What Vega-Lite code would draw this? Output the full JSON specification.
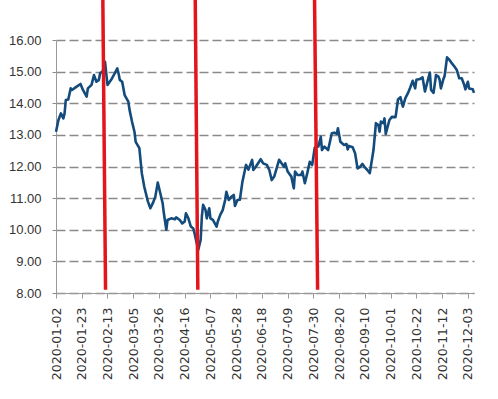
{
  "$schema": "https://vega.github.io/schema/vega-lite/v6.json",
  "width": 418,
  "height": 253,
  "autosize": "none",
  "padding": {"left": 56, "top": 40, "right": 24, "bottom": 106},
  "background": "white",
  "config": {"view": {"stroke": null}},
  "layer": [
    {
      "data": {"values": [
        {"date":"2020-01-02","value":13.10},{"date":"2020-01-04","value":13.47},{"date":"2020-01-06","value":13.68},{"date":"2020-01-08","value":13.52},{"date":"2020-01-09","value":13.68},{"date":"2020-01-10","value":14.10},{"date":"2020-01-12","value":14.12},{"date":"2020-01-14","value":14.47},{"date":"2020-01-15","value":14.42},{"date":"2020-01-18","value":14.50},{"date":"2020-01-22","value":14.61},{"date":"2020-01-24","value":14.42},{"date":"2020-01-27","value":14.21},{"date":"2020-01-28","value":14.47},{"date":"2020-01-31","value":14.58},
        {"date":"2020-02-02","value":14.89},{"date":"2020-02-04","value":14.68},{"date":"2020-02-06","value":14.74},{"date":"2020-02-07","value":14.95},{"date":"2020-02-09","value":15.00},{"date":"2020-02-11","value":15.31},{"date":"2020-02-13","value":14.58},{"date":"2020-02-16","value":14.74},{"date":"2020-02-19","value":14.95},{"date":"2020-02-21","value":15.10},{"date":"2020-02-22","value":14.95},{"date":"2020-02-23","value":14.74},{"date":"2020-02-25","value":14.68},{"date":"2020-02-27","value":14.26},
        {"date":"2020-03-01","value":14.05},{"date":"2020-03-02","value":13.79},{"date":"2020-03-04","value":13.42},{"date":"2020-03-06","value":13.10},{"date":"2020-03-07","value":12.78},{"date":"2020-03-10","value":12.58},{"date":"2020-03-12","value":11.79},{"date":"2020-03-14","value":11.36},{"date":"2020-03-17","value":10.89},{"date":"2020-03-19","value":10.68},{"date":"2020-03-21","value":10.84},{"date":"2020-03-23","value":11.04},{"date":"2020-03-25","value":11.49},{"date":"2020-03-27","value":11.17},{"date":"2020-03-29","value":10.84},{"date":"2020-03-30","value":10.52},
        {"date":"2020-04-01","value":10.00},{"date":"2020-04-02","value":10.31},{"date":"2020-04-05","value":10.36},{"date":"2020-04-08","value":10.33},{"date":"2020-04-09","value":10.39},{"date":"2020-04-12","value":10.31},{"date":"2020-04-14","value":10.20},{"date":"2020-04-16","value":10.26},{"date":"2020-04-17","value":10.52},{"date":"2020-04-19","value":10.36},{"date":"2020-04-21","value":10.10},{"date":"2020-04-23","value":10.04},{"date":"2020-04-24","value":9.89},{"date":"2020-04-27","value":9.36},{"date":"2020-04-29","value":9.68},{"date":"2020-04-30","value":10.42},
        {"date":"2020-05-01","value":10.79},{"date":"2020-05-03","value":10.62},{"date":"2020-05-04","value":10.36},{"date":"2020-05-06","value":10.68},{"date":"2020-05-07","value":10.36},{"date":"2020-05-09","value":10.31},{"date":"2020-05-12","value":10.10},{"date":"2020-05-13","value":10.26},{"date":"2020-05-15","value":10.47},{"date":"2020-05-17","value":10.62},{"date":"2020-05-19","value":10.94},{"date":"2020-05-20","value":11.20},{"date":"2020-05-22","value":10.94},{"date":"2020-05-24","value":11.04},{"date":"2020-05-26","value":11.10},{"date":"2020-05-27","value":10.75},{"date":"2020-05-29","value":10.94},{"date":"2020-05-31","value":10.95},
        {"date":"2020-06-02","value":11.50},{"date":"2020-06-05","value":12.05},{"date":"2020-06-07","value":11.90},{"date":"2020-06-10","value":12.21},{"date":"2020-06-11","value":11.89},{"date":"2020-06-13","value":11.99},{"date":"2020-06-17","value":12.23},{"date":"2020-06-19","value":12.10},{"date":"2020-06-22","value":12.05},{"date":"2020-06-24","value":11.89},{"date":"2020-06-26","value":11.57},{"date":"2020-06-28","value":11.68},
        {"date":"2020-07-02","value":12.21},{"date":"2020-07-04","value":12.10},{"date":"2020-07-06","value":11.99},{"date":"2020-07-07","value":12.10},{"date":"2020-07-09","value":11.84},{"date":"2020-07-12","value":11.68},{"date":"2020-07-14","value":11.31},{"date":"2020-07-15","value":11.84},{"date":"2020-07-17","value":11.73},{"date":"2020-07-20","value":11.73},{"date":"2020-07-21","value":11.84},{"date":"2020-07-23","value":11.47},{"date":"2020-07-25","value":11.79},{"date":"2020-07-27","value":12.15},{"date":"2020-07-29","value":12.05},{"date":"2020-07-31","value":12.58},
        {"date":"2020-08-02","value":12.68},{"date":"2020-08-03","value":12.63},{"date":"2020-08-05","value":12.94},{"date":"2020-08-06","value":12.52},{"date":"2020-08-08","value":12.63},{"date":"2020-08-11","value":12.52},{"date":"2020-08-14","value":13.05},{"date":"2020-08-16","value":13.07},{"date":"2020-08-18","value":13.03},{"date":"2020-08-19","value":13.21},{"date":"2020-08-21","value":12.78},{"date":"2020-08-24","value":12.68},{"date":"2020-08-26","value":12.71},{"date":"2020-08-27","value":12.54},{"date":"2020-08-28","value":12.65},{"date":"2020-08-31","value":12.61},
        {"date":"2020-09-02","value":12.42},{"date":"2020-09-04","value":11.94},{"date":"2020-09-06","value":11.99},{"date":"2020-09-08","value":12.08},{"date":"2020-09-10","value":11.97},{"date":"2020-09-12","value":11.89},{"date":"2020-09-14","value":11.79},{"date":"2020-09-17","value":12.52},{"date":"2020-09-19","value":13.37},{"date":"2020-09-21","value":13.31},{"date":"2020-09-22","value":13.10},{"date":"2020-09-23","value":13.42},{"date":"2020-09-25","value":13.37},{"date":"2020-09-26","value":13.52},{"date":"2020-09-27","value":13.03},{"date":"2020-09-30","value":13.47},
        {"date":"2020-10-02","value":13.57},{"date":"2020-10-05","value":13.56},{"date":"2020-10-07","value":14.12},{"date":"2020-10-09","value":14.19},{"date":"2020-10-11","value":13.89},{"date":"2020-10-13","value":14.16},{"date":"2020-10-15","value":14.31},{"date":"2020-10-17","value":14.50},{"date":"2020-10-19","value":14.71},{"date":"2020-10-21","value":14.47},{"date":"2020-10-22","value":14.74},{"date":"2020-10-25","value":14.77},{"date":"2020-10-27","value":14.82},{"date":"2020-10-29","value":14.37},{"date":"2020-10-31","value":14.68},
        {"date":"2020-11-02","value":14.97},{"date":"2020-11-03","value":14.42},{"date":"2020-11-05","value":14.33},{"date":"2020-11-07","value":14.89},{"date":"2020-11-09","value":14.84},{"date":"2020-11-10","value":14.74},{"date":"2020-11-11","value":14.47},{"date":"2020-11-13","value":14.76},{"date":"2020-11-14","value":14.86},{"date":"2020-11-16","value":15.45},{"date":"2020-11-18","value":15.37},{"date":"2020-11-20","value":15.26},{"date":"2020-11-22","value":15.16},{"date":"2020-11-24","value":15.05},{"date":"2020-11-26","value":14.79},{"date":"2020-11-28","value":14.79},{"date":"2020-11-30","value":14.58},
        {"date":"2020-12-01","value":14.44},{"date":"2020-12-03","value":14.68},{"date":"2020-12-04","value":14.47},{"date":"2020-12-07","value":14.44},{"date":"2020-12-08","value":14.33}
      ]},
      "mark": {"type": "line", "color": "#134b7c", "strokeWidth": 2.6, "strokeJoin": "round"},
      "encoding": {
        "x": {
          "field": "date", "type": "temporal",
          "scale": {"type": "utc", "domain": [{"year": 2020, "month": 1, "date": 2, "utc": true}, {"year": 2020, "month": 12, "date": 8, "utc": true}]},
          "axis": {
            "title": null,
            "tickCount": 40,
            "values": [
              {"year":2020,"month":1,"date":2,"utc":true},{"year":2020,"month":1,"date":23,"utc":true},{"year":2020,"month":2,"date":13,"utc":true},{"year":2020,"month":3,"date":5,"utc":true},{"year":2020,"month":3,"date":26,"utc":true},{"year":2020,"month":4,"date":16,"utc":true},{"year":2020,"month":5,"date":7,"utc":true},{"year":2020,"month":5,"date":28,"utc":true},{"year":2020,"month":6,"date":18,"utc":true},{"year":2020,"month":7,"date":9,"utc":true},{"year":2020,"month":7,"date":30,"utc":true},{"year":2020,"month":8,"date":20,"utc":true},{"year":2020,"month":9,"date":10,"utc":true},{"year":2020,"month":10,"date":1,"utc":true},{"year":2020,"month":10,"date":22,"utc":true},{"year":2020,"month":11,"date":12,"utc":true},{"year":2020,"month":12,"date":3,"utc":true}
            ],
            "format": "%Y-%m-%d",
            "labelAngle": -90,
            "labelFont": "DejaVu Sans",
            "labelFontSize": 12.5,
            "labelColor": "#333333",
            "labelPadding": 9,
            "labelOverlap": false,
            "labelFlush": false,
            "labelBound": false,
            "tickColor": "#999999",
            "tickSize": 5,
            "domainColor": "#999999",
            "grid": false
          }
        },
        "y": {
          "field": "value", "type": "quantitative",
          "scale": {"domain": [8, 16], "nice": false, "zero": false},
          "axis": {
            "title": null,
            "tickCount": 20,
            "values": [8, 9, 10, 11, 12, 13, 14, 15, 16],
            "format": ".2f",
            "labelOverlap": false,
            "grid": true,
            "gridDash": [9, 4],
            "gridColor": "#8a8a8a",
            "gridWidth": 1.3,
            "domainColor": "#999999",
            "tickColor": "#8a8a8a",
            "tickSize": 4,
            "labelFont": "Liberation Sans Narrow, Liberation Sans",
            "labelFontSize": 13,
            "labelColor": "#333333",
            "labelPadding": 11
          }
        }
      }
    },
    {
      "data": {"values": [
        {"top_date": "2020-02-09T04:48:00Z", "bottom_date": "2020-02-11T10:00:00Z", "top": 17.3, "bottom": 8.1},
        {"top_date": "2020-04-24T14:00:00Z", "bottom_date": "2020-04-26T17:00:00Z", "top": 17.3, "bottom": 8.1},
        {"top_date": "2020-07-30T22:00:00Z", "bottom_date": "2020-08-02T10:00:00Z", "top": 17.3, "bottom": 8.1}
      ]},
      "mark": {"type": "rule", "color": "#e3151b", "strokeWidth": 3.5},
      "encoding": {
        "x": {"field": "top_date", "type": "temporal"},
        "x2": {"field": "bottom_date"},
        "y": {"field": "top", "type": "quantitative"},
        "y2": {"field": "bottom"}
      }
    }
  ]
}
